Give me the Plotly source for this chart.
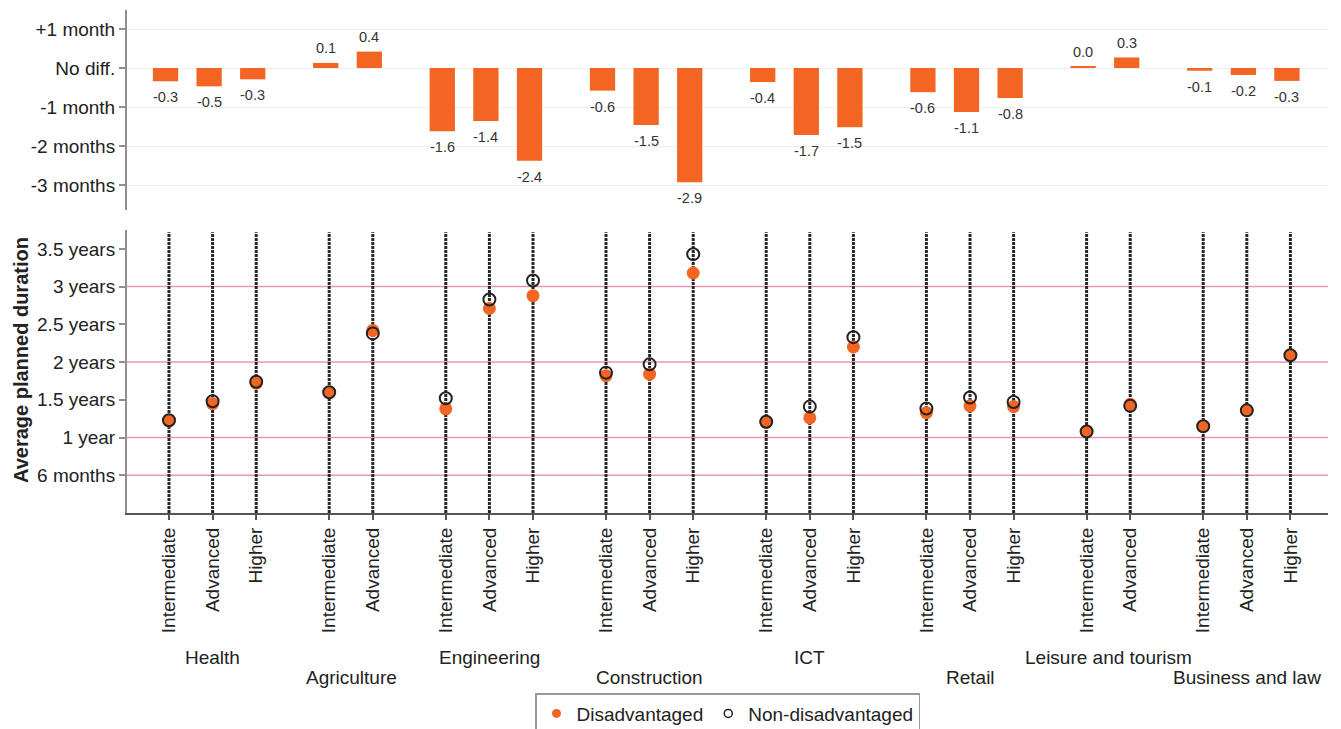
import plotly.graph_objects as go

# ---------------- data ----------------
groups = ["Health", "Agriculture", "Engineering", "Construction", "ICT",
          "Retail", "Leisure and tourism", "Business and law"]
levels = [
    ["Intermediate", "Advanced", "Higher"],
    ["Intermediate", "Advanced"],
    ["Intermediate", "Advanced", "Higher"],
    ["Intermediate", "Advanced", "Higher"],
    ["Intermediate", "Advanced", "Higher"],
    ["Intermediate", "Advanced", "Higher"],
    ["Intermediate", "Advanced"],
    ["Intermediate", "Advanced", "Higher"],
]
# difference in months (disadvantaged - non-disadvantaged)
diff_months = [-0.34, -0.47, -0.29,
               0.13, 0.42,
               -1.62, -1.36, -2.38,
               -0.58, -1.46, -2.93,
               -0.36, -1.72, -1.52,
               -0.62, -1.13, -0.77,
               0.03, 0.27,
               -0.07, -0.18, -0.33]
# average planned duration in years
disadvantaged = [1.22, 1.45, 1.72,
                 1.60, 2.42,
                 1.38, 2.71, 2.88,
                 1.82, 1.84, 3.18,
                 1.20, 1.26, 2.20,
                 1.33, 1.42, 1.41,
                 1.08, 1.44,
                 1.15, 1.36, 2.09]
non_disadvantaged = [1.23, 1.48, 1.74,
                     1.60, 2.38,
                     1.52, 2.83, 3.08,
                     1.86, 1.97, 3.43,
                     1.21, 1.41, 2.33,
                     1.385, 1.53, 1.47,
                     1.08, 1.42,
                     1.15, 1.36, 2.09]
top_tickvals = [-3, -2, -1, 0, 1]
top_ticktext = ["-3 months", "-2 months", "-1 month", "No diff.", "+1 month"]
bot_tickvals = [0.5, 1, 1.5, 2, 2.5, 3, 3.5]
bot_ticktext = ["6 months", "1 year", "1.5 years", "2 years", "2.5 years", "3 years", "3.5 years"]
ref_lines = [0.5, 1, 2, 3]

# ---------------- styling ----------------
ORANGE = "#F26522"
FONT = "Liberation Sans, Arial, sans-serif"
GAP = 1.674  # spacing between groups (in slot units)
PAGE_OFFSET = 8  # default body margin of the html page

xpos, xlabels, group_centers = [], [], []
cur = 0.0
for gi, lv in enumerate(levels):
    if gi > 0:
        cur += GAP - 1
    start = cur
    for name in lv:
        xpos.append(cur)
        xlabels.append(name)
        cur += 1
    group_centers.append((start + cur - 1) / 2)

XR = [-0.963, 26.58]
SHIFT = 0.08

fig = go.Figure()

# top bar chart
fig.add_trace(go.Bar(
    x=xpos, y=diff_months, xaxis="x", yaxis="y",
    marker=dict(color=ORANGE, line=dict(width=0)), width=0.58,
    showlegend=False, hoverinfo="skip"))

# vertical dotted lines
vx, vy = [], []
for p in xpos:
    vx += [p, p, None]
    vy += [0, 3.72, None]
fig.add_trace(go.Scatter(
    x=vx, y=vy, mode="lines", xaxis="x2", yaxis="y2",
    line=dict(color="#262626", width=3, dash="3px,1px"),
    showlegend=False, hoverinfo="skip"))

fig.add_trace(go.Scatter(
    x=xpos, y=disadvantaged, mode="markers", xaxis="x2", yaxis="y2",
    marker=dict(color=ORANGE, size=13, line=dict(width=0)),
    showlegend=False, name="Disadvantaged"))
fig.add_trace(go.Scatter(
    x=xpos, y=non_disadvantaged, mode="markers", xaxis="x2", yaxis="y2",
    marker=dict(symbol="circle-open", color="#222222", size=12, line=dict(width=2)),
    showlegend=False, name="Non-disadvantaged"))

# legend-only traces
fig.add_trace(go.Scatter(
    x=[None], y=[None], mode="markers", xaxis="x2", yaxis="y2",
    marker=dict(color=ORANGE, size=9), name="Disadvantaged"))
fig.add_trace(go.Scatter(
    x=[None], y=[None], mode="markers", xaxis="x2", yaxis="y2",
    marker=dict(symbol="circle-open", color="#222222", size=8, line=dict(width=1.5)),
    name="Non-disadvantaged"))

shapes = []
for v in ref_lines:
    shapes.append(dict(type="line", xref="x2 domain", yref="y2", x0=0, x1=1, y0=v, y1=v,
                       line=dict(color="#e29ab5", width=1.5), layer="below"))

annotations = []
# bar value labels
for p, v in zip(xpos, diff_months):
    annotations.append(dict(
        text=f"{v:.1f}", x=p, y=v, xref="x", yref="y",
        yanchor="middle", xanchor="center", yshift=-16 if v < 0 else 14.5,
        showarrow=False, font=dict(size=14.5, color="#333333", family=FONT)))
# group labels
for gi, g in enumerate(groups):
    annotations.append(dict(
        text=g, x=group_centers[gi], xref="x2", yref="paper",
        y=-0.288 if gi % 2 == 0 else -0.328, yanchor="middle", xanchor="center",
        showarrow=False, font=dict(size=19, color="#222222", family=FONT)))
annotations.append(dict(
    text="<b>Average planned duration</b>", textangle=-90, x=-0.0883, y=0.304,
    xref="paper", yref="paper", xanchor="center", yanchor="middle", showarrow=False,
    font=dict(size=20, color="#222222", family=FONT)))

fig.update_layout(
    width=1341 - PAGE_OFFSET, height=729 - PAGE_OFFSET,
    margin=dict(l=127 - PAGE_OFFSET, r=13, t=10 - PAGE_OFFSET, b=216, autoexpand=False),
    plot_bgcolor="white", paper_bgcolor="white",
    font=dict(family=FONT, size=19, color="#222222"),
    xaxis=dict(domain=[0, 1], range=[XR[0] + SHIFT, XR[1] + SHIFT], anchor="y",
               visible=False),
    yaxis=dict(domain=[0.6024, 1], range=[-3.64, 1.487], anchor="x",
               tickvals=top_tickvals, ticktext=top_ticktext,
               showgrid=True, gridcolor="#eeeeee", gridwidth=1, zeroline=False,
               showline=True, linecolor="#8f8f8f", linewidth=2,
               ticks="outside", ticklen=6, tickcolor="#8f8f8f", tickwidth=1.5,
               tickfont=dict(size=19, color="#222222"), automargin=False),
    xaxis2=dict(domain=[0, 1], range=XR, anchor="y2",
                tickmode="array", tickvals=xpos, ticktext=xlabels, tickangle=-90,
                ticks="outside", ticklen=5, tickcolor="#555555", tickwidth=1.5,
                showline=True, linecolor="#555555", linewidth=2,
                showgrid=False, zeroline=False,
                tickfont=dict(size=19, color="#222222"), automargin=False),
    yaxis2=dict(domain=[0, 0.5626], range=[0, 3.75], anchor="x2",
                tickvals=bot_tickvals, ticktext=bot_ticktext,
                showgrid=False, zeroline=False,
                showline=True, linecolor="#8f8f8f", linewidth=2,
                ticks="outside", ticklen=6, tickcolor="#8f8f8f", tickwidth=1.5,
                tickfont=dict(size=19, color="#222222"), automargin=False),
    legend=dict(orientation="h", x=0.5, xanchor="center", y=-0.358, yanchor="top",
                bordercolor="#999999", borderwidth=1.5, bgcolor="white",
                font=dict(size=19, color="#222222")),
    shapes=shapes, annotations=annotations,
    hovermode=False,
)

fig.write_html("out.html")
